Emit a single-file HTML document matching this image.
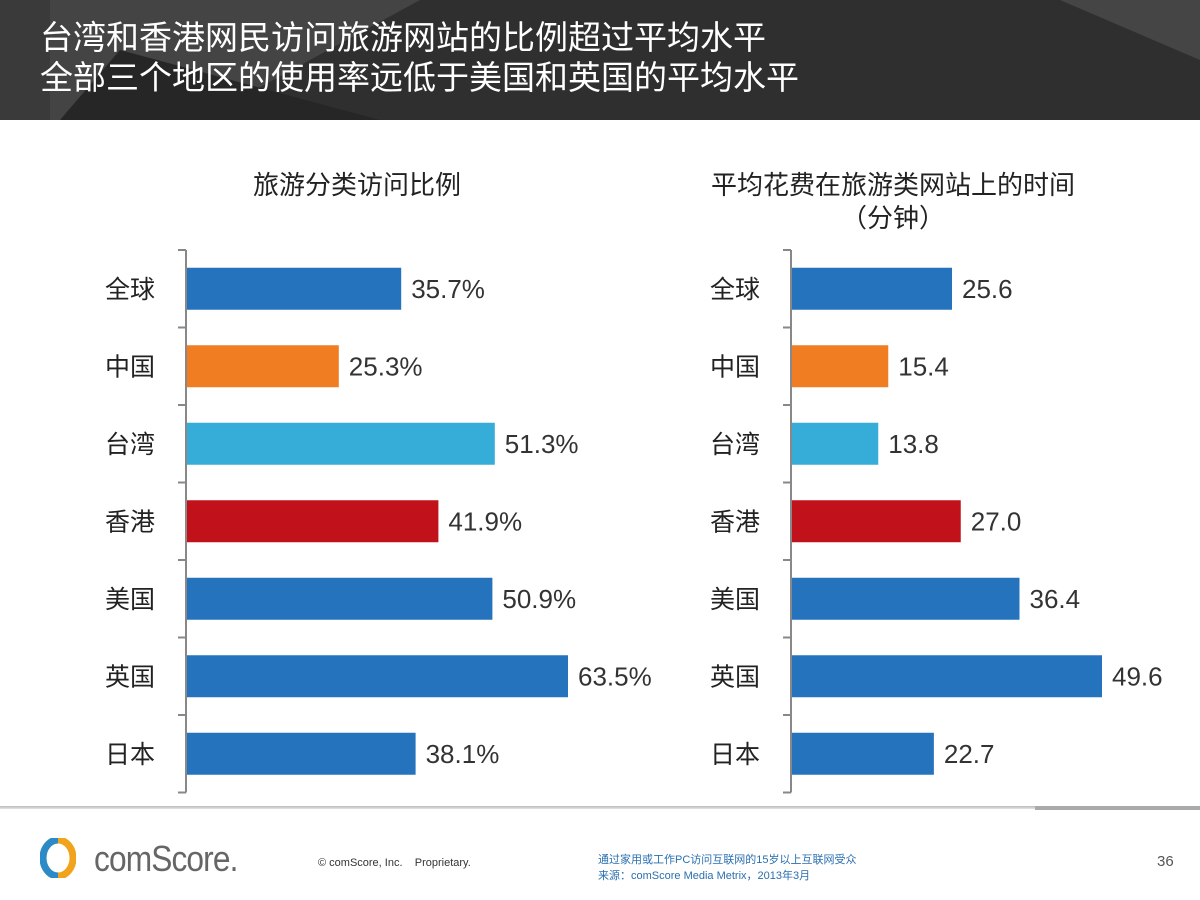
<!DOCTYPE html>
<html><head><meta charset="utf-8">
<style>
body{margin:0;width:1200px;height:900px;position:relative;background:#fff;overflow:hidden;font-family:"Liberation Sans","Noto Sans CJK SC",sans-serif;}
.hdr{position:absolute;left:0;top:0;width:1200px;height:120px;background:#2f2f2f;}
.ttl{position:absolute;left:40px;color:#fff;font-size:33px;line-height:40px;font-family:"Liberation Sans","Noto Sans CJK SC",sans-serif;}
.ct{position:absolute;font-size:26px;color:#222;text-align:center;line-height:33px;}
.foot{position:absolute;font-size:11px;color:#333;}
</style></head><body>
<div class="hdr">
<svg width="1200" height="120" style="position:absolute;left:0;top:0">
<polygon points="0,0 50,0 50,120 0,120" fill="#3a3a3a"/>
<polygon points="50,0 420,0 200,120 50,120" fill="#444"/>
<polygon points="120,50 380,120 60,120" fill="#262626"/>
<polygon points="1060,0 1200,0 1200,60" fill="#454545"/>
</svg>
<div class="ttl" style="top:18px">台湾和香港网民访问旅游网站的比例超过平均水平</div>
<div class="ttl" style="top:58px">全部三个地区的使用率远低于美国和英国的平均水平</div>
</div>
<div class="ct" style="left:207px;top:169px;width:300px">旅游分类访问比例</div>
<div class="ct" style="left:693px;top:169px;width:400px">平均花费在旅游类网站上的时间<br>（分钟）</div>
<svg id="chart" width="1200" height="900" style="position:absolute;left:0;top:0"></svg>
<div style="position:absolute;left:0;top:806px;width:1200px;height:3px;background:linear-gradient(#bbb,#e4e4e4)"></div>
<div style="position:absolute;left:1035px;top:806px;width:165px;height:4px;background:#aaa"></div>
<div style="position:absolute;left:40px;top:838px;width:36px;height:40px">
<svg width="36" height="40"><ellipse cx="18" cy="20" rx="15" ry="18" fill="none" stroke="#f2a31c" stroke-width="7"/><path d="M18 2 A15 18 0 0 0 18 38" fill="none" stroke="#2a8bc8" stroke-width="7"/></svg></div>
<div style="position:absolute;left:94px;top:838px;font-size:36px;color:#666;letter-spacing:-1px;transform:scaleX(0.88);transform-origin:left">comScore.</div>
<div class="foot" style="left:318px;top:857px">© comScore, Inc. &nbsp;&nbsp; Proprietary.</div>
<div class="foot" style="left:598px;top:852px;color:#2a6fb0;line-height:16px">通过家用或工作PC访问互联网的15岁以上互联网受众<br>来源：comScore Media Metrix，2013年3月</div>
<div class="foot" style="left:1157px;top:853px;font-size:15px;color:#555">36</div>
<script>
const categories=["全球","中国","台湾","香港","美国","英国","日本"];
const visitShare=[35.7,25.3,51.3,41.9,50.9,63.5,38.1];
const minutesSpent=[25.6,15.4,13.8,27.0,36.4,49.6,22.7];
const barColors=["#2673bd","#f07d22","#36acd8","#c1121c","#2673bd","#2673bd","#2673bd"];
const NS="http://www.w3.org/2000/svg";
const svg=document.getElementById('chart');
function mk(t,a){const e=document.createElementNS(NS,t);for(const k in a)e.setAttribute(k,a[k]);svg.appendChild(e);return e;}
const y0=250,step=77.5;
function yPos(i){return y0+step*i;}
function drawChart(axisX,scale,vals,fmt,name,labelX){
  const ax=mk('line',{x1:axisX,y1:y0,x2:axisX,y2:y0+step*categories.length,stroke:'#888','stroke-width':2});
  
  
  for(let i=0;i<=categories.length;i++){
    const t=mk('line',{x1:axisX-8,y1:yPos(i),x2:axisX,y2:yPos(i),stroke:'#888','stroke-width':2});
    
    
  }
  vals.forEach((v,i)=>{
    const w=v*scale, yc=yPos(i)+step/2;
    const r=mk('rect',{x:axisX+1,y:yc-21,width:w,height:42,fill:barColors[i]});
    
    
    const tv=mk('text',{x:axisX+1+w+10,y:yc+9,'font-size':26,fill:'#333','font-family':'Liberation Sans, sans-serif'});
    tv.textContent=fmt(v);
    
    
    const tl=mk('text',{x:labelX,y:yc+9,'font-size':25,fill:'#222','text-anchor':'middle','font-family':'Liberation Sans, Noto Sans CJK SC, sans-serif'});
    tl.textContent=categories[i];
    
    
  });
}
drawChart(186,6.0,visitShare,v=>v.toFixed(1)+'%','visit-share',130);
drawChart(791,6.25,minutesSpent,v=>v.toFixed(1),'minutes',735);
</script>
</body></html>
